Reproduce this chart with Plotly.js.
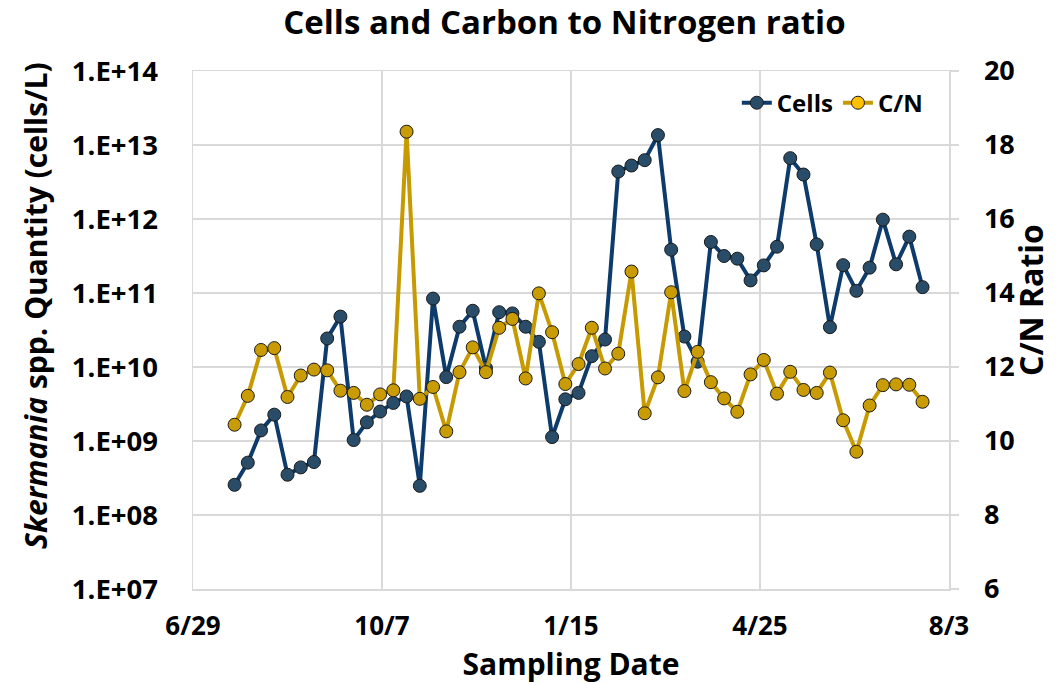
<!DOCTYPE html>
<html>
<head>
<meta charset="utf-8">
<script src="https://cdn.plot.ly/plotly-3.0.1.min.js"></script>
<style>
  html, body { margin: 0; padding: 0; background: #ffffff; }
  #chart { width: 1057px; height: 684px; }
</style>
</head>
<body>
<div id="chart"></div>
<script>
// Weekly sampling dates
const sampleDates = [
  '2018-07-21','2018-07-28','2018-08-04','2018-08-11','2018-08-18','2018-08-25',
  '2018-09-01','2018-09-08','2018-09-15','2018-09-22','2018-09-29',
  '2018-10-06','2018-10-13','2018-10-20','2018-10-27',
  '2018-11-03','2018-11-10','2018-11-17','2018-11-24',
  '2018-12-01','2018-12-08','2018-12-15','2018-12-22','2018-12-29',
  '2019-01-05','2019-01-12','2019-01-19','2019-01-26',
  '2019-02-02','2019-02-09','2019-02-16','2019-02-23',
  '2019-03-02','2019-03-09','2019-03-16','2019-03-23','2019-03-30',
  '2019-04-06','2019-04-13','2019-04-20','2019-04-27',
  '2019-05-04','2019-05-11','2019-05-18','2019-05-25',
  '2019-06-01','2019-06-08','2019-06-15','2019-06-22','2019-06-29',
  '2019-07-06','2019-07-13','2019-07-20'
];

// Skermania spp. quantity (cells/L)
const cellsValues = [
  2.56e8, 5.1e8, 1.39e9, 2.27e9, 3.5e8, 4.4e8, 5.2e8, 2.43e10, 4.8e10, 1.03e9,
  1.79e9, 2.5e9, 3.27e9, 4.0e9, 2.48e8, 8.4e10, 7.3e9, 3.5e10, 5.75e10, 9.7e9,
  5.5e10, 5.3e10, 3.5e10, 2.19e10, 1.13e9, 3.66e9, 4.47e9, 1.40e10, 2.35e10, 4.38e12,
  5.28e12, 6.24e12, 1.36e13, 3.85e11, 2.58e10, 1.18e10, 4.89e11, 3.16e11, 2.91e11, 1.48e11,
  2.36e11, 4.23e11, 6.64e12, 3.99e12, 4.54e11, 3.45e10, 2.38e11, 1.07e11, 2.2e11, 9.8e11,
  2.44e11, 5.78e11, 1.2e11
];

// Carbon to Nitrogen ratio
const cnValues = [
  10.44, 11.22, 12.46, 12.51, 11.19, 11.77, 11.93, 11.91, 11.36, 11.30,
  10.98, 11.26, 11.37, 18.36, 11.14, 11.46, 10.26, 11.86, 12.53, 11.86,
  13.06, 13.30, 11.69, 13.99, 12.94, 11.54, 12.08, 13.06, 11.96, 12.36,
  14.58, 10.75, 11.72, 14.02, 11.35, 12.41, 11.59, 11.15, 10.79, 11.80,
  12.19, 11.28, 11.87, 11.38, 11.30, 11.85, 10.56, 9.71, 10.96, 11.51,
  11.53, 11.52, 11.06
];

// Axis ticks
const xTickDates = ['2018-06-29','2018-10-07','2019-01-15','2019-04-25','2019-08-03'];
const xTickLabels = ['6/29','10/7','1/15','4/25','8/3'];
const yTickVals = [1e7, 1e8, 1e9, 1e10, 1e11, 1e12, 1e13, 1e14];
const yTickLabels = ['1.E+07','1.E+08','1.E+09','1.E+10','1.E+11','1.E+12','1.E+13','1.E+14'];
const y2TickVals = [6, 8, 10, 12, 14, 16, 18, 20];

const FONT = 'Open Sans, Lato, sans-serif';
const GRID = '#d9d9d9';

const cellsLine = { color: '#0d3b6b', width: 4 };
const cellsMarker = { color: '#294d69', size: 13, line: { color: '#1a1a1a', width: 1 } };
const cnLine = { color: '#c69a00', width: 4 };
const cnMarker = { color: '#c99c05', size: 13, line: { color: '#1a1a1a', width: 1 } };

const traces = [
  {
    x: sampleDates, y: cellsValues, name: 'Cells', type: 'scatter', mode: 'lines+markers',
    yaxis: 'y', legendgroup: 'cells', showlegend: false,
    line: cellsLine, marker: cellsMarker
  },
  {
    x: sampleDates, y: cnValues, name: 'C/N', type: 'scatter', mode: 'lines+markers',
    yaxis: 'y2', legendgroup: 'cn', showlegend: false,
    line: cnLine, marker: cnMarker
  },
  // legend entries (legend symbol styling as in the reference)
  {
    x: [null], y: [null], name: 'Cells', type: 'scatter', mode: 'lines+markers',
    yaxis: 'y', legendgroup: 'cells', showlegend: true,
    line: cellsLine, marker: cellsMarker
  },
  {
    x: [null], y: [null], name: 'C/N', type: 'scatter', mode: 'lines+markers',
    yaxis: 'y2', legendgroup: 'cn', showlegend: true,
    line: cnLine, marker: { color: '#ffc000', size: 13, line: { color: '#1a1a1a', width: 1 } }
  }
];

const layout = {
  width: 1057, height: 684,
  margin: { l: 193, r: 108, t: 71, b: 95, pad: 0 },
  paper_bgcolor: '#ffffff', plot_bgcolor: '#ffffff',
  font: { family: FONT, color: '#000000' },
  showlegend: true,
  title: {
    text: 'Cells and Carbon to Nitrogen ratio',
    font: { family: FONT, size: 33, weight: 'bold', color: '#000' },
    xref: 'container', x: 0.534, xanchor: 'center',
    yref: 'container', y: 1 - 22/684, yanchor: 'middle'
  },
  legend: {
    orientation: 'h', x: 0.972, xanchor: 'right', y: 0.938, yanchor: 'middle',
    bgcolor: 'rgba(0,0,0,0)', font: { family: FONT, size: 24, weight: 'bold', color: '#000' },
    itemwidth: 30, tracegroupgap: 0
  },
  xaxis: {
    type: 'date',
    range: ['2018-06-29', '2019-08-03'],
    tickmode: 'array', tickvals: xTickDates, ticktext: xTickLabels,
    tickfont: { family: FONT, size: 26, weight: 'bold', color: '#000' },
    ticks: '', ticklabelstandoff: 13,
    showgrid: true, gridcolor: GRID, gridwidth: 1.5,
    showline: true, mirror: true, linecolor: GRID, linewidth: 1.5,
    zeroline: false,
    title: { text: 'Sampling Date', font: { family: FONT, size: 30, weight: 'bold', color: '#000' }, standoff: 4 }
  },
  yaxis: {
    type: 'log', range: [7, 14],
    tickmode: 'array', tickvals: yTickVals, ticktext: yTickLabels,
    tickfont: { family: FONT, size: 27.5, weight: 'bold', color: '#000' },
    ticks: '', ticklabelstandoff: 28,
    showgrid: true, gridcolor: GRID, gridwidth: 1.5,
    showline: true, mirror: true, linecolor: GRID, linewidth: 1.5,
    zeroline: false
  },
  yaxis2: {
    overlaying: 'y', side: 'right', range: [6, 20],
    tickmode: 'array', tickvals: y2TickVals,
    tickfont: { family: FONT, size: 27, weight: 'bold', color: '#000' },
    ticks: 'outside', ticklen: 8, tickcolor: GRID, tickwidth: 1.5, ticklabelstandoff: 20,
    showgrid: false, showline: true, linecolor: GRID, linewidth: 1.5,
    zeroline: false
  },
  annotations: [
    {
      text: '<i>Skermania</i> spp. Quantity (cells/L)',
      xref: 'paper', yref: 'paper',
      x: (35 - 193) / 756, y: (589 - 306) / 518,
      xanchor: 'center', yanchor: 'middle', textangle: -90, showarrow: false,
      font: { family: FONT, size: 30, weight: 'bold', color: '#000' }
    },
    {
      text: 'C/N Ratio',
      xref: 'paper', yref: 'paper',
      x: (1030 - 193) / 756, y: (589 - 300) / 518,
      xanchor: 'center', yanchor: 'middle', textangle: -90, showarrow: false,
      font: { family: FONT, size: 32, weight: 'bold', color: '#000' }
    }
  ]
};

Plotly.newPlot('chart', traces, layout, { displayModeBar: false, staticPlot: true });
</script>
</body>
</html>
